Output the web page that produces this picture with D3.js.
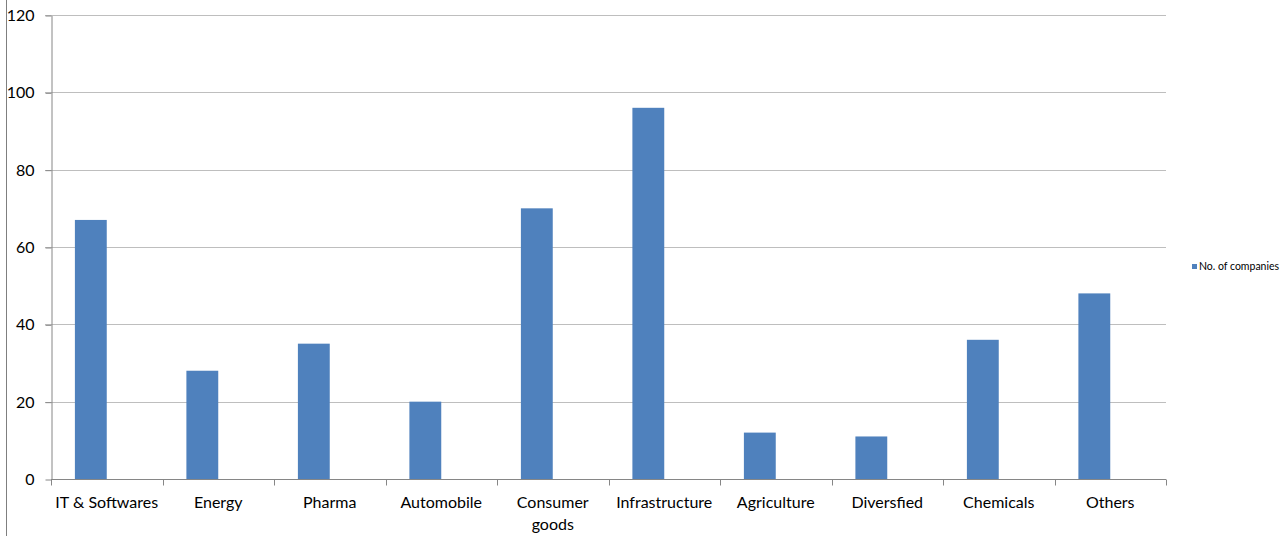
<!DOCTYPE html>
<html>
<head>
<meta charset="utf-8">
<script src="https://cdn.jsdelivr.net/npm/d3@7"></script>
<style>
  body { margin: 0; background: #fff; }
  svg text { font-family: Lato, "Open Sans", sans-serif; fill: #000; }
</style>
</head>
<body>
<div id="container"></div>
<script>
const w = 1288,
  h = 536,
  plotLeft = 51,
  plotRight = 1166,
  plotTop = 15,
  plotBottom = 479;

const categories = [
  'IT & Softwares',
  'Energy',
  'Pharma',
  'Automobile',
  'Consumer goods',
  'Infrastructure',
  'Agriculture',
  'Diversfied',
  'Chemicals',
  'Others',
];
const companies = [67, 28, 35, 20, 70, 96, 12, 11, 36, 48];
const seriesName = 'No. of companies';
const yTicks = [0, 20, 40, 60, 80, 100, 120];

const svg = d3
  .select('#container')
  .append('svg')
  .attr('width', w)
  .attr('height', h);

// left border of the picture
svg
  .append('line')
  .attr('x1', 6.5)
  .attr('x2', 6.5)
  .attr('y1', 0)
  .attr('y2', h)
  .attr('stroke', '#7f7f7f');

const xScale = d3.scaleBand().domain(categories).range([plotLeft, plotRight]);
// two slots per category, like a clustered column with gap width 150%
const slot = d3
  .scaleBand()
  .domain(['a', 'b'])
  .range([0, xScale.bandwidth()])
  .paddingOuter(0.75);

const yScale = d3.scaleLinear().domain([0, 120]).range([plotBottom, plotTop]);

// gridlines
svg
  .append('g')
  .selectAll('line')
  .data(yTicks.slice(1))
  .enter()
  .append('line')
  .attr('x1', plotLeft - 6)
  .attr('x2', plotRight)
  .attr('y1', (d) => Math.round(yScale(d)) + 0.5)
  .attr('y2', (d) => Math.round(yScale(d)) + 0.5)
  .attr('stroke', '#bebebe');

const yAxis = d3
  .axisLeft(yScale)
  .tickValues(yTicks)
  .tickSize(6)
  .tickPadding(11)
  .tickSizeOuter(0);

const gy = svg
  .append('g')
  .attr('transform', 'translate(' + (plotLeft + 0.5) + ',0.5)')
  .call(yAxis);
gy.select('.domain').attr('stroke', '#868686');
gy.selectAll('.tick line').attr('stroke', '#868686');
gy.selectAll('.tick text').attr('font-size', 16).attr('fill', '#000');

// bars
svg
  .append('g')
  .selectAll('rect')
  .data(companies)
  .enter()
  .append('rect')
  .attr('x', (d, i) => xScale(categories[i]) + slot('a'))
  .attr('width', slot.bandwidth())
  .attr('y', (d) => yScale(d))
  .attr('height', (d) => yScale(0) - yScale(d))
  .attr('fill', '#4f81bd');

// x axis with ticks at category boundaries
const gx = svg.append('g').attr('transform', 'translate(0,' + (plotBottom + 0.5) + ')');
gx.append('line')
  .attr('x1', plotLeft)
  .attr('x2', plotRight)
  .attr('stroke', '#868686');
gx.selectAll('.tk')
  .data(categories.concat(['end']))
  .enter()
  .append('line')
  .attr('class', 'tk')
  .attr('x1', (d, i) => Math.round(plotLeft + i * xScale.step()) + 0.5)
  .attr('x2', (d, i) => Math.round(plotLeft + i * xScale.step()) + 0.5)
  .attr('y1', 0)
  .attr('y2', 6)
  .attr('stroke', '#868686');

const labels = gx
  .selectAll('.lbl')
  .data(categories)
  .enter()
  .append('text')
  .attr('class', 'lbl')
  .attr('text-anchor', 'middle')
  .attr('font-size', 16)
  .attr('x', (d) => xScale(d) + xScale.bandwidth() / 2)
  .attr('y', 28);
labels.each(function (d) {
  const parts = d === 'Consumer goods' ? ['Consumer', 'goods'] : [d];
  parts.forEach((p, k) => {
    d3.select(this)
      .append('tspan')
      .attr('x', xScale(d) + xScale.bandwidth() / 2)
      .attr('dy', k === 0 ? 0 : 22)
      .text(p);
  });
});

// legend
const lg = svg.append('g').attr('transform', 'translate(1192,264)');
lg.append('rect').attr('width', 5).attr('height', 5).attr('fill', '#4f81bd');
lg.append('text')
  .attr('x', 7)
  .attr('y', 6)
  .attr('font-size', 10.5)
  .text(seriesName);
</script>
</body>
</html>
